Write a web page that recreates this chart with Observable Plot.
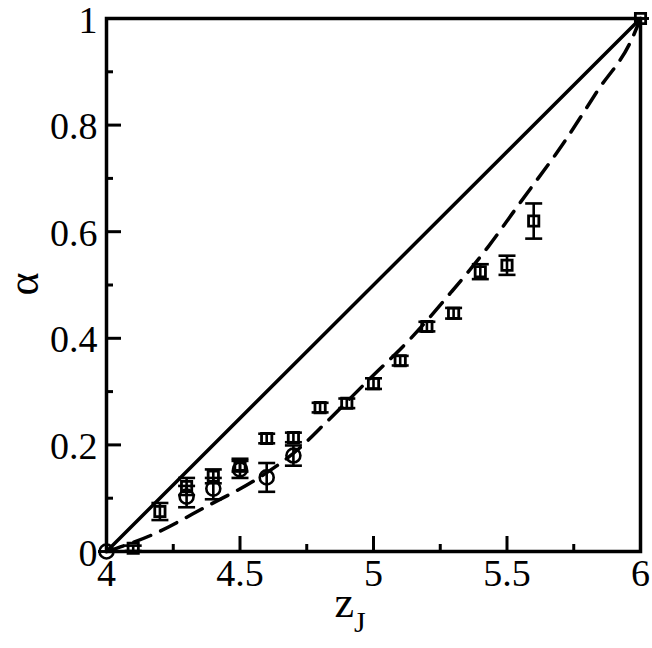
<!DOCTYPE html>
<html>
<head>
<meta charset="utf-8">
<script src="https://cdn.jsdelivr.net/npm/d3@7"></script>
<script src="https://cdn.jsdelivr.net/npm/@observablehq/plot@0.6"></script>
<style>
  html, body { margin: 0; padding: 0; background: #fff; }
  svg text { font-family: "Liberation Serif", "Times New Roman", serif; }
</style>
</head>
<body>
<div id="chart"></div>
<script>
// Squares with error bars
const sqX = [4.1, 4.2, 4.3, 4.4, 4.5, 4.6, 4.7, 4.8, 4.9, 5.0, 5.1, 5.2, 5.3, 5.4, 5.5, 5.6, 6.0];
const sqY = [0.006, 0.075, 0.122, 0.141, 0.162, 0.212, 0.214, 0.270, 0.278, 0.315, 0.358, 0.422, 0.447, 0.525, 0.537, 0.620, 1.0];
const sqE = [0.005, 0.016, 0.016, 0.013, 0.012, 0.009, 0.009, 0.009, 0.009, 0.010, 0.009, 0.009, 0.010, 0.014, 0.018, 0.033, 0];
// Circles with error bars
const cX = [4.0, 4.3, 4.4, 4.5, 4.6, 4.7];
const cY = [0.0, 0.103, 0.118, 0.154, 0.139, 0.180];
const cE = [0, 0.020, 0.020, 0.016, 0.027, 0.019];
// Dashed curve
const dashX = [4.0, 4.165, 4.38, 4.56, 4.73, 4.81, 4.98, 5.14, 5.29, 5.43, 5.55, 5.71, 5.84, 5.97, 6.0];
const dashY = [0.0, 0.030, 0.086, 0.135, 0.197, 0.236, 0.321, 0.400, 0.486, 0.572, 0.655, 0.765, 0.865, 0.964, 1.0];
// Solid line endpoints
const lineX = [4, 6];
const lineY = [0, 1];
// Ticks
const xMajor = [4, 4.5, 5, 5.5, 6];
const xMinor = [4.25, 4.75, 5.25, 5.75];
const xLabels = ["4", "4.5", "5", "5.5", "6"];
const yMajor = [0, 0.2, 0.4, 0.6, 0.8, 1];
const yMinor = [0.1, 0.3, 0.5, 0.7, 0.9];
const yLabels = ["0", "0.2", "0.4", "0.6", "0.8", "1"];

const squares = sqX.map((x, i) => ({x, y: sqY[i], lo: sqY[i] - sqE[i], hi: sqY[i] + sqE[i]}));
const circles = cX.map((x, i) => ({x, y: cY[i], lo: cY[i] - cE[i], hi: cY[i] + cE[i]}));
const dashed = dashX.map((x, i) => ({x, y: dashY[i]}));
const solid = lineX.map((x, i) => ({x, y: lineY[i]}));

const W = 652, H = 648, ML = 106, MR = 12, MT = 18, MB = 97;
const PW = W - ML - MR, PH = H - MT - MB;

const capSymbol = {
  draw(ctx) { ctx.moveTo(-8.5, 0); ctx.lineTo(8.5, 0); }
};

const font = "Liberation Serif";

const errMarks = (data) => [
  Plot.ruleX(data, {x: "x", y1: "lo", y2: "hi", stroke: "black", strokeWidth: 2.6}),
  Plot.dot(data, {x: "x", y: "lo", symbol: capSymbol, stroke: "black", strokeWidth: 2.6, r: 1}),
  Plot.dot(data, {x: "x", y: "hi", symbol: capSymbol, stroke: "black", strokeWidth: 2.6, r: 1})
];

const chart = Plot.plot({
  width: W, height: H,
  marginLeft: ML, marginRight: MR, marginTop: MT, marginBottom: MB,
  style: {fontFamily: font, fontSize: "38px", color: "black", background: "white", overflow: "visible"},
  x: {domain: [4, 6]},
  y: {domain: [0, 1]},
  marks: [
    Plot.axisX(xMajor, {tickSize: 0, tickPadding: 8, tickFormat: (d, i) => xLabels[i], fontSize: 38, label: null}),
    Plot.axisY(yMajor, {tickSize: 0, tickPadding: 9, tickFormat: (d, i) => yLabels[i], fontSize: 38, label: null, dy: 2}),
    Plot.tickX(xMajor, {x: d => d, stroke: "black", strokeWidth: 3, insetTop: PH - 15}),
    Plot.tickX(xMinor, {x: d => d, stroke: "black", strokeWidth: 3, insetTop: PH - 7}),
    Plot.tickY(yMajor, {y: d => d, stroke: "black", strokeWidth: 3, insetRight: PW - 15}),
    Plot.tickY(yMinor, {y: d => d, stroke: "black", strokeWidth: 3, insetRight: PW - 7}),
    Plot.line(solid, {x: "x", y: "y", stroke: "black", strokeWidth: 3.5}),
    Plot.line(dashed, {x: "x", y: "y", stroke: "black", strokeWidth: 3.5, strokeDasharray: "18,11", curve: "monotone-x"}),
    ...errMarks(squares),
    ...errMarks(circles),
    Plot.dot(squares, {x: "x", y: "y", symbol: "square", r: 5.8, stroke: "black", strokeWidth: 2.8, fill: "none"}),
    Plot.dot(circles, {x: "x", y: "y", symbol: "circle", r: 7, stroke: "black", strokeWidth: 2.6, fill: "none"}),
    Plot.frame({stroke: "black", strokeWidth: 3.5})
  ]
});

const svg = d3.select(chart);
svg.append("text")
  .attr("x", 350).attr("y", 617)
  .attr("font-family", font).attr("font-size", 44).attr("fill", "black")
  .text("z")
  .append("tspan").attr("font-size", 30).attr("dy", 15).text("J");
svg.append("text")
  .attr("transform", "translate(38,284) rotate(-90)")
  .attr("text-anchor", "middle")
  .attr("font-family", font).attr("font-size", 44).attr("fill", "black")
  .text("α");

document.getElementById("chart").appendChild(chart);
</script>
</body>
</html>
